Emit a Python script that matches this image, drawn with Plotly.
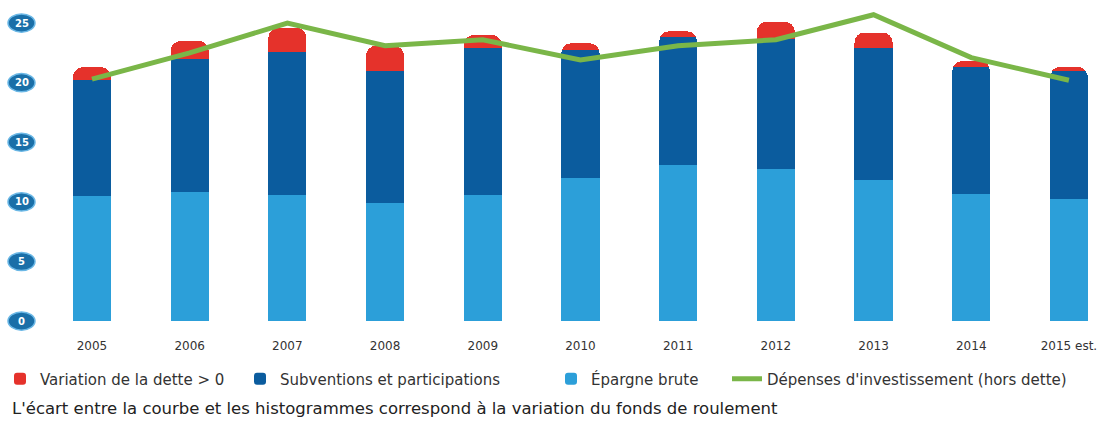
import plotly.graph_objects as go

years = ["2005", "2006", "2007", "2008", "2009", "2010", "2011", "2012", "2013", "2014", "2015 est."]
epargne = [10.5, 10.8, 10.6, 9.9, 10.6, 12.0, 13.1, 12.8, 11.8, 10.7, 10.2]
subventions = [9.7, 11.2, 12.0, 11.1, 12.3, 10.7, 10.7, 10.9, 11.1, 10.6, 10.8]
dette = [1.1, 1.5, 2.0, 2.1, 1.1, 0.6, 0.5, 1.4, 1.3, 0.5, 0.3]
depenses = [20.3, 22.5, 25.0, 23.1, 23.6, 21.9, 23.1, 23.6, 25.7, 22.1, 20.2]
y_ticks = [0, 5, 10, 15, 20, 25]

C_RED = "#e5322b"
C_DARK = "#0b5c9e"
C_LIGHT = "#2c9fd9"
C_GREEN = "#7ab648"
CLEAR = "rgba(0,0,0,0)"
FONT = "DejaVu Sans"

W, H = 1106, 421
L, R, T, B = 40, 6, 4, 88
plot_w = W - L - R
plot_h = H - T - B
lo, hi = -1.0, 26.6

NOLINE = dict(width=0)

fig = go.Figure()

# 1) plain light-blue segment; a clear bar stacked on it takes the top rounding
fig.add_trace(go.Bar(x=years, y=epargne, marker=dict(color=C_LIGHT, line=NOLINE), name="Épargne brute",
                     showlegend=False, hoverinfo="skip", xaxis="x", yaxis="y"))
fig.add_trace(go.Bar(x=years, y=subventions, marker=dict(color=CLEAR, line=NOLINE), showlegend=False,
                     hoverinfo="skip", xaxis="x", yaxis="y"))

# 2) light-blue segment on a reversed overlay axis, giving the rounded bottom
fig.add_trace(go.Bar(x=years, y=epargne, base=[lo + hi - v for v in epargne],
                     marker=dict(color=C_LIGHT, line=NOLINE),
                     name="Épargne brute", legend="legend3", xaxis="x", yaxis="y2"))

# 3) stack with rounded top drawn above
fig.add_trace(go.Bar(x=years, y=epargne, marker=dict(color=CLEAR, line=NOLINE), showlegend=False,
                     hoverinfo="skip", xaxis="x", yaxis="y3"))
fig.add_trace(go.Bar(x=years, y=subventions, marker=dict(color=C_DARK, line=NOLINE),
                     name="Subventions et participations", legend="legend2", xaxis="x", yaxis="y3"))
fig.add_trace(go.Bar(x=years, y=dette, marker=dict(color=C_RED, line=NOLINE), name="Variation de la dette > 0",
                     legend="legend", xaxis="x", yaxis="y3"))

# 4) line on top
fig.add_trace(go.Scatter(x=years, y=depenses, mode="lines", line=dict(color=C_GREEN, width=5),
                         name="Dépenses d'investissement (hors dette)", legend="legend4",
                         xaxis="x", yaxis="y4"))

xr = [-0.532, 10.318]

shapes = []
annotations = []
bx0 = (8 - L) / plot_w
bx1 = (35 - L) / plot_w
for t in y_ticks:
    shapes.append(dict(type="circle", xref="paper", yref="y", x0=bx0, x1=bx1, y0=t - 0.76, y1=t + 0.76,
                       fillcolor="#1a6fa8", line=dict(color="#6bb8e6", width=1.5)))
    annotations.append(dict(xref="paper", yref="y", x=(bx0 + bx1) / 2, y=t, text=f"<b>{t}</b>",
                            showarrow=False, font=dict(family=FONT, size=10, color="white"),
                            xanchor="center", yanchor="middle"))

annotations.append(dict(xref="paper", yref="paper", x=(10 - L) / plot_w, y=-(408 - (H - B)) / plot_h,
                        xanchor="left", yanchor="middle", showarrow=False,
                        text="L'écart entre la courbe et les histogrammes correspond à la variation du fonds de roulement",
                        font=dict(family=FONT, size=16.5, color="#222222")))

leg_common = dict(orientation="h", xref="container", yref="container", yanchor="middle",
                  font=dict(family=FONT, size=15, color="#333333"), bgcolor="rgba(0,0,0,0)",
                  itemclick=False, itemdoubleclick=False)
ly = 1 - 379 / H

hidden = dict(showgrid=False, zeroline=False, showline=False, showticklabels=False)

fig.update_layout(
    width=W, height=H,
    margin=dict(l=L, r=R, t=T, b=B),
    paper_bgcolor="white", plot_bgcolor="white",
    barmode="stack", bargap=0.61, barcornerradius=10,
    xaxis=dict(range=xr, showgrid=False, zeroline=False, showline=False, ticks="outside", ticklen=2,
               tickcolor="rgba(0,0,0,0)", tickfont=dict(family=FONT, size=12, color="#333333")),
    yaxis=dict(range=[lo, hi], **hidden),
    yaxis2=dict(range=[hi, lo], overlaying="y", **hidden),
    yaxis3=dict(range=[lo, hi], overlaying="y", **hidden),
    yaxis4=dict(range=[lo, hi], overlaying="y", **hidden),
    legend=dict(x=0 / W, y=ly, **leg_common),
    legend2=dict(x=(258 - 18) / W, y=ly, **leg_common),
    legend3=dict(x=(567 - 16) / W, y=ly, **leg_common),
    legend4=dict(x=(722 + 5) / W, y=ly, **leg_common),
    shapes=shapes,
    annotations=annotations,
)

fig.write_html("out.html")
